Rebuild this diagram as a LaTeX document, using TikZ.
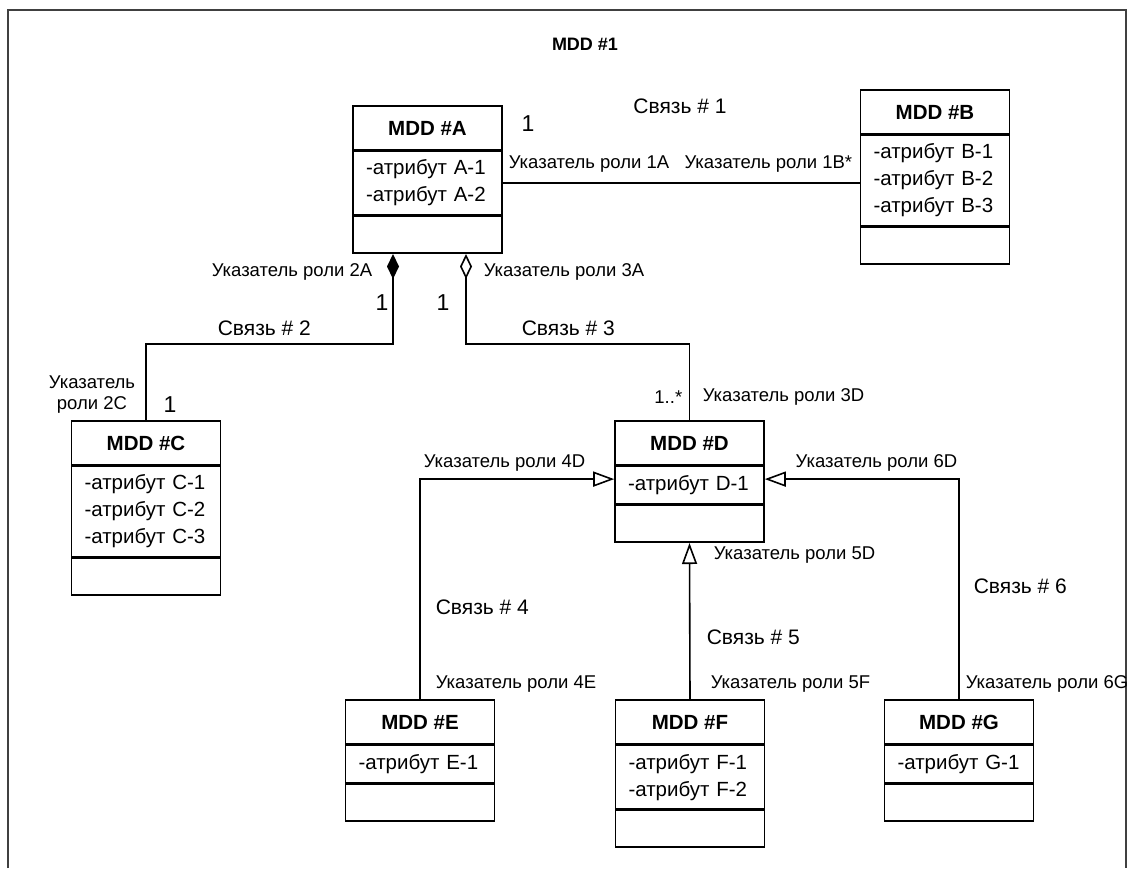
\documentclass[tikz,border=0pt]{standalone}
\usepackage{fontspec}
\setmainfont{Liberation Sans}
\usetikzlibrary{positioning,arrows.meta}
\tikzset{every picture/.style={line width=1.6pt}}
\tikzset{
  clshead/.style={draw, minimum width=149pt, minimum height=44pt, inner sep=0pt, font=\fontsize{20.5}{24}\selectfont\bfseries},
  clsattr/.style={draw, minimum width=149pt, minimum height=#1, text width=123pt, inner xsep=13pt, inner ysep=0pt, align=left, font=\fontsize{20.5}{27}\selectfont},
  clsop/.style={draw, minimum width=149pt, minimum height=37pt, inner sep=0pt},
  lbl/.style={inner sep=0pt, font=\fontsize{18.5}{21}\selectfont},
  link/.style={inner sep=0pt, font=\fontsize{21}{24}\selectfont},
  mult/.style={inner sep=0pt, font=\fontsize{23}{26}\selectfont},
  compo/.style={{Diamond[length=25pt,width=12pt]}-},
  aggr/.style={{Diamond[open,length=25pt,width=12pt]}-},
  gener/.style={-{Triangle[open,length=21pt,width=15pt]}},
}

\begin{document}
\begin{tikzpicture}[x=1pt,y=1pt,yscale=-1,xscale=1]
\useasboundingbox (0,0) rectangle (1127,868);

% frame
\draw [line width=2pt, black!75] (7.5,868) -- (7.5,10) -- (1126,10) -- (1126,868);
\node [lbl, font=\fontsize{18}{21}\selectfont\bfseries] (title) at (585,44) {MDD \#1};

% classes
\node [clshead] (A) at (427.5,128) {MDD \#A};
\node [clsattr=63pt, below=0pt of A] (Aattr) {-атрибут А-1\\-атрибут А-2};
\node [clsop, below=0pt of Aattr] (Aop) {};

\node [clshead] (B) at (935,112) {MDD \#B};
\node [clsattr=90pt, below=0pt of B] (Battr) {-атрибут В-1\\-атрибут В-2\\-атрибут В-3};
\node [clsop, below=0pt of Battr] (Bop) {};

\node [clshead] (C) at (146,443) {MDD \#C};
\node [clsattr=90pt, below=0pt of C] (Cattr) {-атрибут С-1\\-атрибут С-2\\-атрибут С-3};
\node [clsop, below=0pt of Cattr] (Cop) {};

\node [clshead] (D) at (689.5,443) {MDD \#D};
\node [clsattr=37pt, below=0pt of D] (Dattr) {-атрибут D-1};
\node [clsop, below=0pt of Dattr] (Dop) {};

\node [clshead] (E) at (420,722) {MDD \#E};
\node [clsattr=37pt, below=0pt of E] (Eattr) {-атрибут Е-1};
\node [clsop, below=0pt of Eattr] (Eop) {};

\node [clshead] (F) at (690,722) {MDD \#F};
\node [clsattr=63pt, below=0pt of F] (Fattr) {-атрибут F-1\\-атрибут F-2};
\node [clsop, below=0pt of Fattr] (Fop) {};

\node [clshead] (G) at (959,722) {MDD \#G};
\node [clsattr=37pt, below=0pt of G] (Gattr) {-атрибут G-1};
\node [clsop, below=0pt of Gattr] (Gop) {};

% connectors
\coordinate (bend) at (0,344);
\coordinate (c2) at ([xshift=-34.5pt]Aop.south);
\coordinate (c3) at ([xshift=38.5pt]Aop.south);
\draw (Aattr.east) -- (Aattr.east -| Battr.west);
\draw [compo] (c2) -- (c2 |- bend) -| (C.north);
\draw [aggr] (c3) -- (c3 |- bend) -| (D.north);
\draw [gener] (E.north) |- ([yshift=-6pt]Dattr.west);
\draw [gener] (F.north) -- (Dop.south);
\draw [gener] (G.north) |- ([yshift=-6pt]Dattr.east);

% Text Node
\node [mult] (m1a) at (528,124) {1};
\node [link] (s1) at (680,106) {Связь \# 1};
\node [lbl, anchor=west] (r1a) at (508,164) {Указатель роли 1А};
\node [lbl, anchor=east] (r1b) at (853,164) {Указатель роли 1В*};
\node [lbl, anchor=east] (r2a) at (373,272) {Указатель роли 2А};
\node [lbl, anchor=west] (r3a) at (483,272) {Указатель роли 3А};
\node [mult] (m2a) at (382,303) {1};
\node [mult] (m3a) at (443,303) {1};
\node [link, anchor=west] (s2) at (217,328) {Связь \# 2};
\node [link, anchor=west] (s3) at (521,328) {Связь \# 3};
\node [lbl, align=center] (r2c) at (92,395) {Указатель\\роли 2С};
\node [mult] (m2c) at (170,405) {1};
\node [lbl, anchor=east] (m3d) at (683,397) {1..*};
\node [lbl, anchor=west] (r3d) at (702,397) {Указатель роли 3D};
\node [lbl, anchor=west] (r4d) at (423,463) {Указатель роли 4D};
\node [lbl, anchor=east] (r6d) at (958,463) {Указатель роли 6D};
\node [lbl, anchor=west] (r5d) at (713,555) {Указатель роли 5D};
\node [link, anchor=west] (s4) at (435,607) {Связь \# 4};
\node [link, anchor=west] (s5) at (706,637) {Связь \# 5};
\node [link, anchor=west] (s6) at (973,586) {Связь \# 6};
\node [lbl, anchor=west] (r4e) at (435,684) {Указатель роли 4Е};
\node [lbl, anchor=west] (r5f) at (710,684) {Указатель роли 5F};
\node [lbl, anchor=west] (r6g) at (965,684) {Указатель роли 6G};
\end{tikzpicture}
\end{document}
